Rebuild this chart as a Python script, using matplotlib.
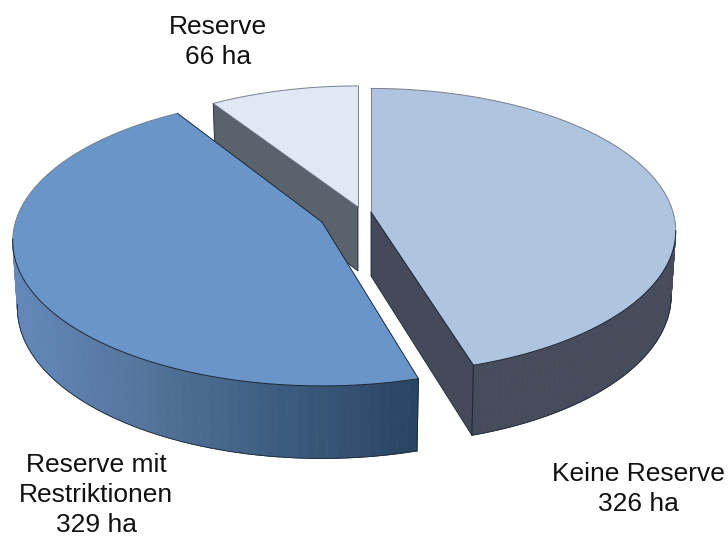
# 3D looking pie chart of reserve areas
import numpy as np
import matplotlib
matplotlib.use('Agg')
import matplotlib.pyplot as plt
from matplotlib.colors import LinearSegmentedColormap
from matplotlib.patches import Polygon

plt.rcParams['font.family'] = ['Liberation Sans', 'DejaVu Sans']

# data, clockwise from twelve o'clock
labels = ['Keine Reserve\n326 ha', 'Reserve mit\nRestriktionen\n329 ha', 'Reserve\n66 ha']
areas = [326, 329, 66]

# look of the slices
top_colors = ['#aec4df', '#6a95c9', '#e0e7f5']
apexes = [(371, 212), (322, 222), (358, 207)]
scales = [1.0, 1.015, 0.98]
turns = [0.0, 1.3, 0.0]
depths = [64, 66, 64]
label_pos = [(638, 489), (96, 495), (218, 42)]

# projection of the disc
A, B, K = 302, 140, 0.133
EDGE = '#1d2735'
SOFT = '#77808c'

left_side = LinearSegmentedColormap.from_list('left_side', ['#2a4562', '#3f5f83', '#56779f', '#6085b5', '#6488b9'])


def project(t, i, bottom=False):
    # t in degrees clockwise from the back of the disc, i is the slice
    r = np.radians(t + turns[i])
    s = scales[i] / (1 + K * np.cos(r))
    a, b = A, B
    x0, y0 = apexes[i]
    if bottom:
        a, b = A * 0.985, B * 1.04
        y0 = y0 + depths[i]
    return x0 + a * np.sin(r) * s, y0 - b * np.cos(r) * s


def side_strip(t0, t1, i, colors, n=60):
    ts = np.linspace(t0, t1, n + 1)
    for j in range(n):
        xt, yt = project(ts[j:j + 2], i)
        xb, yb = project(ts[j:j + 2], i, bottom=True)
        pts = np.column_stack([np.r_[xt, xb[::-1]], np.r_[yt, yb[::-1]]])
        c = colors(j / (n - 1)) if callable(colors) else colors
        ax.add_patch(Polygon(pts, closed=True, fc=c, ec=c, lw=0.6, zorder=2))
    # outline along the bottom arc
    xb, yb = project(ts, i, bottom=True)
    ax.plot(xb, yb, color=EDGE, lw=0.6, zorder=3)


def radial_face(t, i, color):
    xt, yt = project(t, i)
    xb, yb = project(t, i, bottom=True)
    x0, y0 = apexes[i]
    pts = [(x0, y0), (xt, yt), (xb, yb), (x0, y0 + depths[i])]
    ax.add_patch(Polygon(pts, closed=True, fc=color, ec=EDGE, lw=0.6, zorder=2))


def top_face(i, zorder):
    ts = np.linspace(edges[i], edges[i + 1], 200)
    xs, ys = project(ts, i)
    x0, y0 = apexes[i]
    pts = np.column_stack([np.r_[x0, xs], np.r_[y0, ys]])
    ax.add_patch(Polygon(pts, closed=True, fc=top_colors[i], ec='none', zorder=zorder))
    # the far part of the rim is soft, the near part dark
    near = (ts > 97) & (ts < 262)
    ax.plot(xs[ts <= 97], ys[ts <= 97], color=SOFT, lw=0.7, zorder=zorder)
    ax.plot(xs[ts >= 262], ys[ts >= 262], color=SOFT, lw=0.7, zorder=zorder)
    ax.plot(xs[near], ys[near], color=EDGE, lw=0.7, zorder=zorder)
    ax.plot([x0, xs[0]], [y0, ys[0]], color=EDGE if i == 1 else SOFT, lw=0.7, zorder=zorder)
    ax.plot([x0, xs[-1]], [y0, ys[-1]], color=SOFT if i == 2 else EDGE, lw=0.7, zorder=zorder)


fig = plt.figure(figsize=(7.28, 5.36), dpi=100)
ax = fig.add_axes([0, 0, 1, 1])
ax.set_xlim(0, 728)
ax.set_ylim(536, 0)
ax.axis('off')

edges = np.r_[0, np.cumsum(areas)] / np.sum(areas) * 360

# back slice first, then the two front ones
radial_face(edges[2], 2, '#5a626c')
top_face(2, 3)

radial_face(0, 0, '#444a59')
radial_face(edges[1], 0, '#444a59')
side_strip(97.5, edges[1], 0, '#464c5b')
side_strip(edges[1], 262.5, 1, left_side)

top_face(0, 4)
top_face(1, 4)

# corner lines of the front edge
for i in [0, 1]:
    xt, yt = project(edges[1], i)
    xb, yb = project(edges[1], i, bottom=True)
    ax.plot([xt, xb], [yt, yb], color=EDGE, lw=0.7, zorder=5)

for lab, (x, y) in zip(labels, label_pos):
    ax.text(x, y, lab, ha='center', va='center', fontsize=19, color='#111111',
            linespacing=1.3, zorder=6)

fig.savefig('out.png', dpi=100)
